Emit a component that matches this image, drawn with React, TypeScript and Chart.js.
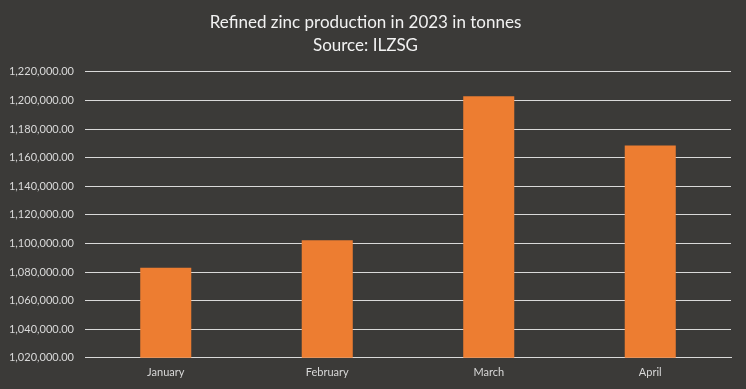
import React, { useEffect, useRef } from "react";
import { Chart, registerables } from "chart.js";

Chart.register(...registerables);

const categories = ["January", "February", "March", "April"];
const production = [1083000, 1102300, 1203000, 1168600];
const titleLines = ["Refined zinc production in 2023 in tonnes", "Source: ILZSG"];
const yMin = 1020000;
const yMax = 1220000;
const yStep = 20000;

const BG = "#3b3a38";
const BAR = "#ed7d31";
const GRID = "#d9d9d9";
const TEXT = "#d9d9d9";
const FONT = "Lato, 'Open Sans', sans-serif";

export default function App() {
  const ref = useRef<HTMLCanvasElement | null>(null);
  useEffect(() => {
    document.body.style.margin = "0";
    document.body.style.background = BG;
    if (!ref.current) return;
    const chart = new Chart(ref.current, {
      type: "bar",
      data: {
        labels: categories,
        datasets: [
          {
            data: production,
            backgroundColor: BAR,
            borderWidth: 0,
            barPercentage: 0.316,
            categoryPercentage: 1,
          },
        ],
      },
      options: {
        animation: false,
        responsive: true,
        maintainAspectRatio: false,
        layout: { padding: { left: 0, right: 15, top: 0, bottom: 2 } },
        plugins: {
          legend: { display: false },
          tooltip: { enabled: false },
          title: {
            display: true,
            text: titleLines,
            color: "#f2f2f2",
            font: { family: FONT, size: 17, weight: "normal", lineHeight: 1.35 },
            padding: { top: 11, bottom: 15 },
          },
        },
        scales: {
          x: {
            grid: { display: false, drawTicks: false },
            border: { display: true, color: GRID, width: 1 },
            ticks: {
              color: TEXT,
              font: { family: FONT, size: 11 },
              padding: 8,
            },
          },
          y: {
            min: yMin,
            max: yMax,
            afterFit: (scale: any) => {
              scale.width = 85;
            },
            grid: { color: GRID, lineWidth: 1, drawTicks: false },
            border: { display: false },
            ticks: {
              stepSize: yStep,
              color: TEXT,
              padding: 11,
              font: { family: FONT, size: 11 },
              callback: (v: any) =>
                Number(v).toLocaleString("en-US", {
                  minimumFractionDigits: 2,
                  maximumFractionDigits: 2,
                }),
            },
          },
        },
      },
      plugins: [
        {
          id: "bg",
          beforeDraw: (c: any) => {
            const ctx = c.ctx;
            ctx.save();
            ctx.fillStyle = BG;
            ctx.fillRect(0, 0, c.width, c.height);
            ctx.restore();
          },
        },
      ],
    });
    return () => chart.destroy();
  }, []);
  return (
    <div style={{ width: 746, height: 389, position: "relative", background: BG }}>
      <canvas ref={ref} />
    </div>
  );
}
